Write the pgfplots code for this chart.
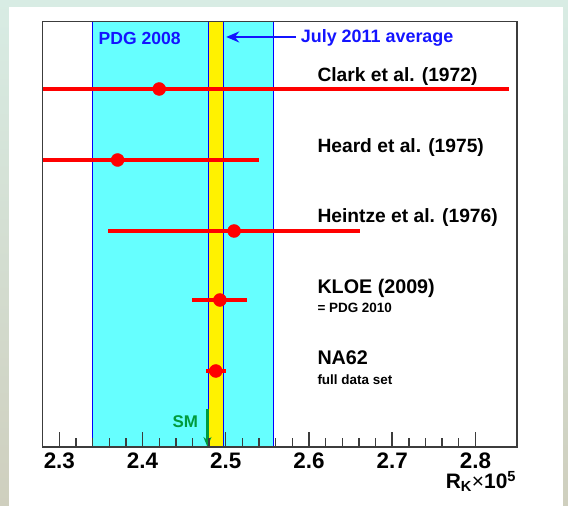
\documentclass[border=0pt]{standalone}
\usepackage{fontspec}
\setmainfont{Liberation Sans}
\usepackage{pgfplots}
\pgfplotsset{compat=1.18}
\usetikzlibrary{arrows.meta}
\definecolor{bandcyan}{RGB}{102,255,255}
\definecolor{smgreen}{RGB}{0,155,60}
\definecolor{bgtop}{RGB}{216,236,228}
\definecolor{bgbot}{RGB}{207,207,190}
\definecolor{framegray}{RGB}{60,60,60}
\definecolor{txtblue}{RGB}{20,20,255}
\begin{document}
\begin{tikzpicture}[x=1bp,y=1bp]
\useasboundingbox (0,0) rectangle (568,506);
\shade[top color=bgtop,bottom color=bgbot] (0,0) rectangle (568,506);
\fill[white] (9,0) rectangle (562.7,499);
\begin{axis}[
  at={(42.7bp,59bp)}, anchor=south west,
  scale only axis, width=474.3bp, height=425.3bp,
  xmin=2.28, xmax=2.85, ymin=0, ymax=425.3,
  xtick={2.3,2.4,2.5,2.6,2.7,2.8},
  xticklabels={2.3,2.4,2.5,2.6,2.7,2.8},
  minor x tick num=4,
  ytick=\empty,
  xtick pos=left,
  major tick length=15bp, minor tick length=9bp,
  tick style={framegray, line width=1.4bp},
  axis line style={framegray, line width=1.4bp},
  xticklabel style={font=\fontsize{22.5}{24}\selectfont\bfseries, yshift=-2.5bp},
  /pgf/number format/assume math mode=true,
  axis on top,
]
\addplot[draw=blue, line width=1.2bp, fill=bandcyan] coordinates {(2.34,425.3) (2.557,425.3)} \closedcycle;
\addplot[draw=blue, line width=1.2bp, fill=yellow] coordinates {(2.4795,425.3) (2.4975,425.3)} \closedcycle;
\addplot[only marks, mark=*, mark size=6.5bp, red, mark options={fill=red, draw=red},
  error bars/.cd, x dir=both, x explicit, error bar style={line width=4bp, red}, error mark=none]
coordinates {
(2.42,358) +- (0.42,0)
(2.37,287) +- (0.17,0)
(2.51,216) +- (0.151,0)
(2.493,147) +- (0.033,0)
(2.488,76) +- (0.012,0)
};
\node[anchor=west, inner sep=0, font=\fontsize{19.3}{22}\selectfont\bfseries] at (axis cs:2.61,370) {Clark et al. (1972)};
\node[anchor=west, inner sep=0, font=\fontsize{19.3}{22}\selectfont\bfseries] at (axis cs:2.61,299) {Heard et al. (1975)};
\node[anchor=west, inner sep=0, font=\fontsize{19.3}{22}\selectfont\bfseries] at (axis cs:2.61,229) {Heintze et al. (1976)};
\node[anchor=west, inner sep=0, font=\fontsize{19.8}{22}\selectfont\bfseries] at (axis cs:2.61,159) {KLOE (2009)};
\node[anchor=west, inner sep=0, font=\fontsize{13.5}{15}\selectfont\bfseries] at (axis cs:2.61,139) {= PDG 2010};
\node[anchor=west, inner sep=0, font=\fontsize{19.8}{22}\selectfont\bfseries] at (axis cs:2.61,89) {NA62};
\node[anchor=west, inner sep=0, font=\fontsize{13.5}{15}\selectfont\bfseries] at (axis cs:2.61,67) {full data set};
\node[anchor=west, inner sep=0, txtblue, font=\fontsize{17.6}{20}\selectfont\bfseries] at (axis cs:2.347,409) {PDG 2008};
\node[anchor=west, inner sep=0, txtblue, font=\fontsize{18}{20}\selectfont\bfseries] at (axis cs:2.590,409) {July 2011 average};
\draw[txtblue, line width=2.5bp, -{Stealth[length=13bp,width=11bp]}] (axis cs:2.584,410) -- (axis cs:2.5005,410);
\node[inner sep=0, smgreen, font=\fontsize{17}{19}\selectfont\bfseries] at (axis cs:2.4514,25.5) {SM};
\draw[smgreen, line width=2.2bp, -{Stealth[length=10bp,width=8bp]}] (axis cs:2.478,38) -- (axis cs:2.478,0);
\end{axis}
\node[anchor=base east, inner sep=0, font=\fontsize{21}{24}\selectfont\bfseries] at (516.3,17.3) {R\textsubscript{K}{\mdseries ×}10\textsuperscript{5}};
\end{tikzpicture}
\end{document}
